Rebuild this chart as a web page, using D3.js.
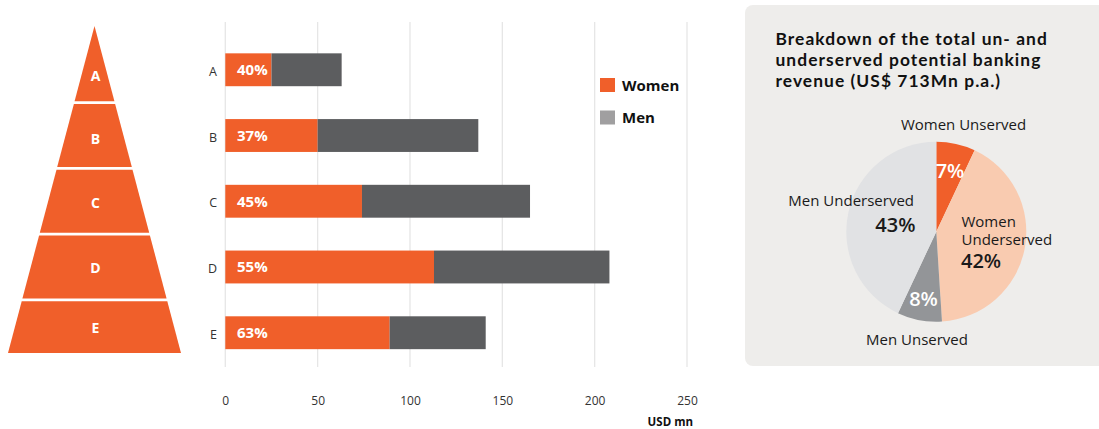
<!DOCTYPE html>
<html>
<head>
<meta charset="utf-8">
<script src="https://cdn.jsdelivr.net/npm/d3@7"></script>
<style>
html,body{margin:0;padding:0;background:#fff;}
svg{display:block;font-family:"Open Sans",sans-serif;}
</style>
</head>
<body>
<svg id="chart" width="1099" height="429"></svg>
<script>
// ---- data ----
const categories = ["A", "B", "C", "D", "E"];
const womenValues = [25, 50, 74, 113, 89];
const menValues = [38, 87, 91, 95, 52];
const womenShareLabels = ["40%", "37%", "45%", "55%", "63%"];
const xTickValues = [0, 50, 100, 150, 200, 250];
const legendLabels = ["Women", "Men"];
const pieLabels = ["Women Unserved", "Women Underserved", "Men Unserved", "Men Underserved"];
const pieValues = [7, 42, 8, 43];
const pieShareLabels = ["7%", "42%", "8%", "43%"];
const titleLines = ["Breakdown of the total un- and", "underserved potential banking", "revenue (US$ 713Mn p.a.)"];

const ORANGE = "#f05f2a", DARK = "#5c5d5f", LEGEND_MEN = "#a09fa0";
const svg = d3.select("#chart");

// ---- scales ----
const x = d3.scaleLinear().domain([0, 250]).range([225.3, 687]);
const y = d3.scaleBand().domain(categories).range([36.9, 365.6]).paddingInner(0.5).paddingOuter(0.25);
const bw = y.bandwidth(), gapHalf = (y.step() - bw) / 2;

// ---- gridlines ----
svg.append("g").selectAll("line").data(xTickValues).join("line")
  .attr("x1", d => x(d)).attr("x2", d => x(d))
  .attr("y1", 22).attr("y2", 367)
  .attr("stroke", "#e6e6e6").attr("stroke-width", 1.3);

// x axis labels
const xAxis = d3.axisBottom(x).tickValues(xTickValues).tickSize(0).tickPadding(0);
const gx = svg.append("g").attr("transform", "translate(0,396)").call(xAxis);
gx.select(".domain").remove();
gx.selectAll("text").attr("font-size", 12).attr("fill", "#333").attr("font-family", "Open Sans");
svg.append("text").attr("x", 693).attr("y", 426).attr("text-anchor", "end")
  .attr("font-size", 11.5).attr("font-weight", 700).attr("fill", "#111").text("USD mn");

// y labels
const yAxis = d3.axisLeft(y).tickSize(0).tickPadding(0);
const gy = svg.append("g").attr("transform", "translate(217,2)").call(yAxis);
gy.select(".domain").remove();
gy.selectAll("text").attr("font-size", 12.5).attr("fill", "#333").attr("font-family", "Open Sans").attr("text-anchor", "end");

// bars
const rows = categories.map((c, i) => ({c, w: womenValues[i], m: menValues[i], s: womenShareLabels[i]}));
const bars = svg.append("g");
bars.selectAll("rect.w").data(rows).join("rect").attr("class", "w")
  .attr("x", x(0)).attr("y", d => y(d.c)).attr("height", bw)
  .attr("width", d => x(d.w) - x(0)).attr("fill", ORANGE);
bars.selectAll("rect.m").data(rows).join("rect").attr("class", "m")
  .attr("x", d => x(d.w)).attr("y", d => y(d.c)).attr("height", bw)
  .attr("width", d => x(d.w + d.m) - x(d.w)).attr("fill", DARK);
bars.selectAll("text").data(rows).join("text")
  .attr("x", 237).attr("y", d => y(d.c) + bw / 2 + 5.5)
  .attr("font-size", 15).attr("font-weight", 700).attr("fill", "#fff").text(d => d.s);

// legend
const lg = svg.append("g");
[ORANGE, LEGEND_MEN].forEach((col, i) => {
  lg.append("rect").attr("x", 600).attr("y", 78 + i * 32.5).attr("width", 15).attr("height", 14).attr("fill", col);
  lg.append("text").attr("x", 622).attr("y", 90.7 + i * 32.5).attr("font-size", 15).attr("font-weight", 700)
    .attr("fill", "#111").text(legendLabels[i]);
});

// ---- pyramid ----
const apexY = 26, baseY = 353, cx = 94.5, slope = 86.5 / 327;
const hw = yy => (yy - apexY) * slope;
const pyr = svg.append("g");
categories.forEach((c, i) => {
  const top = i === 0 ? apexY : y(c) - gapHalf + 1.3;
  const bot = i === categories.length - 1 ? baseY : y(c) + bw + gapHalf - 1.3;
  const a = hw(top), b = hw(bot);
  pyr.append("path")
    .attr("d", `M${cx - a},${top}L${cx + a},${top}L${cx + b},${bot}L${cx - b},${bot}Z`)
    .attr("fill", ORANGE);
  const h = bot - top;
  const cy = top + h * (a + 2 * b) / (3 * (a + b));
  pyr.append("text").attr("x", cx + 1).attr("y", cy + 5).attr("text-anchor", "middle")
    .attr("font-size", 14).attr("font-weight", 700).attr("fill", "#fff").text(c);
});

// ---- pie panel ----
svg.append("rect").attr("x", 745).attr("y", 5).attr("width", 370).attr("height", 361)
  .attr("rx", 8).attr("fill", "#eeedeb");
svg.append("g").selectAll("text").data(titleLines).join("text")
  .attr("x", 775.5).attr("y", (d, i) => 44.5 + i * 21)
  .attr("font-family", "Lato").attr("letter-spacing", 1.05)
  .attr("font-size", 17.4).attr("font-weight", 700).attr("fill", "#111").text(d => d);

const pieColors = [ORANGE, "#f9cbb0", "#939598", "#e1e2e4"];
const pie = d3.pie().sort(null).value(d => d);
const arc = d3.arc().innerRadius(0).outerRadius(90);
const pg = svg.append("g").attr("transform", "translate(936.3,231.7)");
pg.selectAll("path").data(pie(pieValues)).join("path")
  .attr("d", arc).attr("fill", (d, i) => pieColors[i]);

const lab = svg.append("g").attr("fill", "#1a1a1a");
lab.append("text").attr("x", 963.5).attr("y", 130).attr("text-anchor", "middle").attr("font-size", 15).text(pieLabels[0]);
lab.append("text").attr("x", 950).attr("y", 177.5).attr("text-anchor", "middle").attr("font-size", 20).attr("font-weight", 600).attr("fill", "#fff").text(pieShareLabels[0]);
const wu = pieLabels[1].split(" ");
lab.append("text").attr("x", 961.5).attr("y", 226.5).attr("font-size", 15).text(wu[0]);
lab.append("text").attr("x", 961.5).attr("y", 245).attr("font-size", 15).text(wu[1]);
lab.append("text").attr("x", 961).attr("y", 268).attr("font-size", 20).attr("font-weight", 600).text(pieShareLabels[1]);
lab.append("text").attr("x", 923.5).attr("y", 306).attr("text-anchor", "middle").attr("font-size", 20).attr("font-weight", 600).attr("fill", "#fff").text(pieShareLabels[2]);
lab.append("text").attr("x", 917).attr("y", 344.5).attr("text-anchor", "middle").attr("font-size", 15).text(pieLabels[2]);
lab.append("text").attr("x", 914).attr("y", 205.5).attr("text-anchor", "end").attr("font-size", 15).text(pieLabels[3]);
lab.append("text").attr("x", 915.5).attr("y", 231.5).attr("text-anchor", "end").attr("font-size", 20).attr("font-weight", 600).text(pieShareLabels[3]);
</script>
</body>
</html>
